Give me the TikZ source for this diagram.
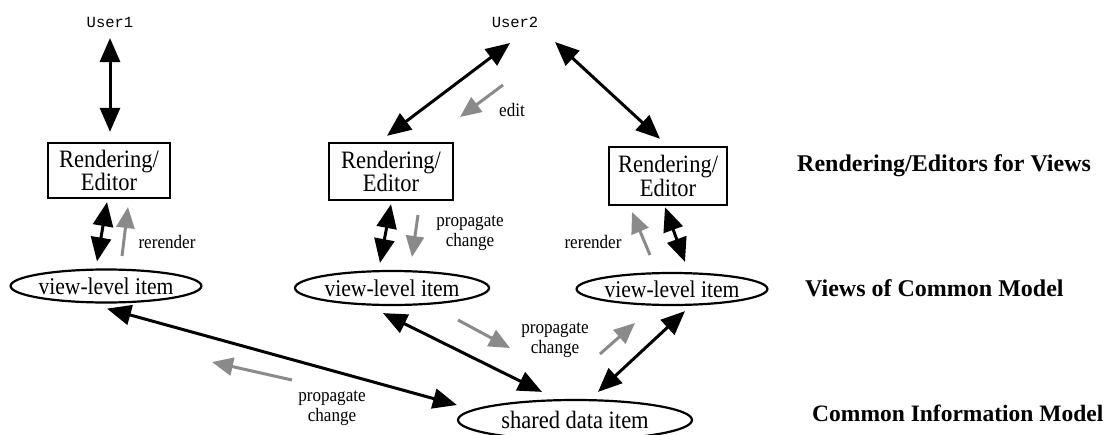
\documentclass[tikz,border=0pt]{standalone}
\usepackage{fontspec}
\setmainfont{Liberation Serif}
\newfontfamily\condserif[FakeStretch=0.9]{Liberation Serif}
\newfontfamily\monofont{Liberation Mono}
\usetikzlibrary{shapes.geometric,arrows.meta,calc}
\definecolor{arrgray}{RGB}{138,138,138}
\tikzset{
  boxnode/.style={draw,line width=2.4pt,inner sep=0pt,align=center,
    font=\condserif\fontsize{25}{23.5}\selectfont},
  ellnode/.style={draw,ellipse,line width=2.2pt,inner sep=0pt,
    font=\condserif\fontsize{24}{26}\selectfont},
  usernode/.style={inner sep=0pt,font=\monofont\fontsize{15.5}{17}\selectfont},
  layerlabel/.style={inner sep=0pt,anchor=west,font=\bfseries\fontsize{24}{26}\selectfont},
  smalllabel/.style={inner sep=0pt,align=center,font=\condserif\fontsize{19}{20}\selectfont},
  dbl/.style={line width=3pt,{Triangle[length=24pt,width=20pt]}-{Triangle[length=24pt,width=20pt]}},
  grayarr/.style={line width=3pt,arrgray,-{Triangle[length=21pt,width=18pt]}}
}
\begin{document}
\begin{tikzpicture}[x=1pt,y=-1pt]
\useasboundingbox (0,0) rectangle (1109,434);
\clip (0,0) rectangle (1109,434);
% users
\node[usernode] (u1) at (110,22) {User1};
\node[usernode] (u2) at (515,22) {User2};
% render boxes
\node[boxnode,minimum width=122pt,minimum height=55pt] (b1) at (109,170.5) {Rendering/\\Editor};
\node[boxnode,minimum width=124pt,minimum height=57pt] (b2) at (391,171.5) {Rendering/\\Editor};
\node[boxnode,minimum width=118pt,minimum height=58pt] (b3) at (668,176) {Rendering/\\Editor};
% view ellipses
\node[ellnode,minimum width=188pt,minimum height=33pt] (e1) at (106,286) {view-level item};
\node[ellnode,minimum width=194pt,minimum height=34pt] (e2) at (392,288) {view-level item};
\node[ellnode,minimum width=168pt,minimum height=32pt] (e3) at (672,289) {view-level item};
% shared
\node[ellnode,minimum width=234pt,minimum height=40pt,font=\condserif\fontsize{25}{26}\selectfont] (s) at (575,420) {shared data item};
% layer labels
\node[layerlabel] (l1) at (797,166) {Rendering/Editors for Views};
\node[layerlabel] (l2) at (805,288) {Views of Common Model};
\node[layerlabel,font=\bfseries\fontsize{23.5}{26}\selectfont] (l3) at (812,413) {Common Information Model};
% black connectors
\draw[dbl] ($(u1)+(0,16)$) -- ($(b1.north)+(1,-10)$);
\draw[dbl] ($(u2)+(-5,21)$) -- ($(b2.north)+(-4,-6)$);
\draw[dbl] ($(u2)+(40,20)$) -- ($(b3.north)+(-8,-7)$);
\draw[dbl] ($(b1.south)+(-2,3)$) -- ($(e1.north)+(-9,-7)$);
\draw[dbl] ($(b2.south)+(0,3)$) -- ($(e2.north)+(-12,-7)$);
\draw[dbl] ($(b3.south)+(-3,1)$) -- ($(e3.north)+(13,-10)$);
\draw[dbl] ($(e1.south)+(1,5)$) -- ($(s.west)+(0,-15)$);
\draw[dbl] ($(e2.south)+(-9,7)$) -- ($(s.north)+(-33,-7)$);
\draw[dbl] ($(e3.south)+(13,5)$) -- ($(s.north)+(23,-7)$);
% gray arrows
\coordinate (g1a) at (503,85);  \coordinate (g1b) at (460,117);
\coordinate (g2a) at (122,256); \coordinate (g2b) at (128,207);
\coordinate (g3a) at (418,215); \coordinate (g3b) at (412,257);
\coordinate (g4a) at (650,255); \coordinate (g4b) at (632,212);
\coordinate (g5a) at (458,320); \coordinate (g5b) at (510,348);
\coordinate (g6a) at (600,354); \coordinate (g6b) at (635,323);
\coordinate (g7a) at (292,380); \coordinate (g7b) at (212,362);
\draw[grayarr] (g1a) -- (g1b);
\draw[grayarr] (g2a) -- (g2b);
\draw[grayarr] (g3a) -- (g3b);
\draw[grayarr] (g4a) -- (g4b);
\draw[grayarr] (g5a) -- (g5b);
\draw[grayarr] (g6a) -- (g6b);
\draw[grayarr] (g7a) -- (g7b);
% small labels
\node[smalllabel] (t1) at (512,110) {edit};
\node[smalllabel] (t2) at (167,242) {rerender};
\node[smalllabel] (t3) at (470,233) {propagate\\change};
\node[smalllabel] (t4) at (593,242) {rerender};
\node[smalllabel] (t5) at (555,340) {propagate\\change};
\node[smalllabel] (t6) at (332,408) {propagate\\change};
\end{tikzpicture}
\end{document}
